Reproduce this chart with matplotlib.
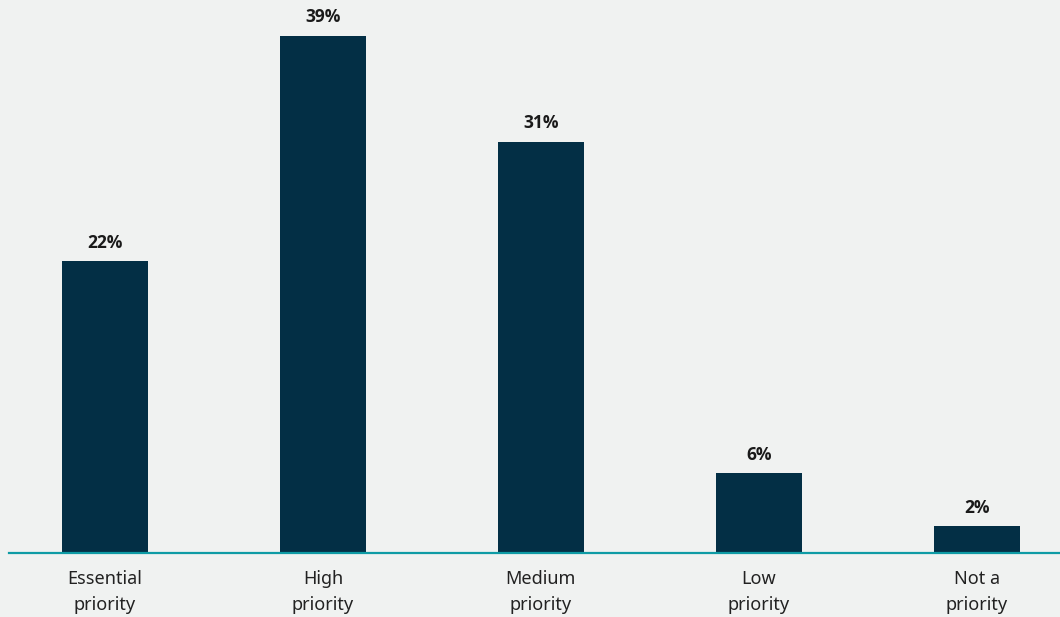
import matplotlib.pyplot as plt

categories = ['Essential\npriority', 'High\npriority', 'Medium\npriority',
              'Low\npriority', 'Not a\npriority']
shares = [22, 39, 31, 6, 2]

BG = '#f0f2f1'
BAR = '#032f45'
RULE = '#0e9ba5'

plt.rcParams['font.family'] = ['Noto Sans', 'DejaVu Sans']

fig = plt.figure(figsize=(10.6, 6.17), dpi=100, facecolor=BG)
ax = fig.add_axes([9 / 1060, 64 / 617, 1051 / 1060, 553 / 617])
ax.set_facecolor(BG)

x = list(range(len(categories)))
bars = ax.bar(x, shares, width=0.394, color=BAR, zorder=2)

# percentage above each bar
for b, v in zip(bars, shares):
    ax.annotate(f'{v}%', (b.get_x() + b.get_width() / 2, v),
                xytext=(0, 7), textcoords='offset points',
                ha='center', va='bottom', fontsize=12.5, fontweight='bold',
                family=['Open Sans', 'DejaVu Sans'], color='#1a1a1a')

ax.set_xlim(-0.440, 4.381)
ax.set_ylim(0, 41.7)

ax.set_xticks(x)
ax.set_xticklabels(categories, fontsize=13, color='#222222', linespacing=1.6)
ax.tick_params(axis='x', length=0, pad=12)
ax.set_yticks([])

for side in ['top', 'right', 'left']:
    ax.spines[side].set_visible(False)
ax.spines['bottom'].set_color(RULE)
ax.spines['bottom'].set_linewidth(1.6)
ax.spines['bottom'].set_zorder(3)

fig.savefig('out.png', dpi=100, facecolor=BG)
